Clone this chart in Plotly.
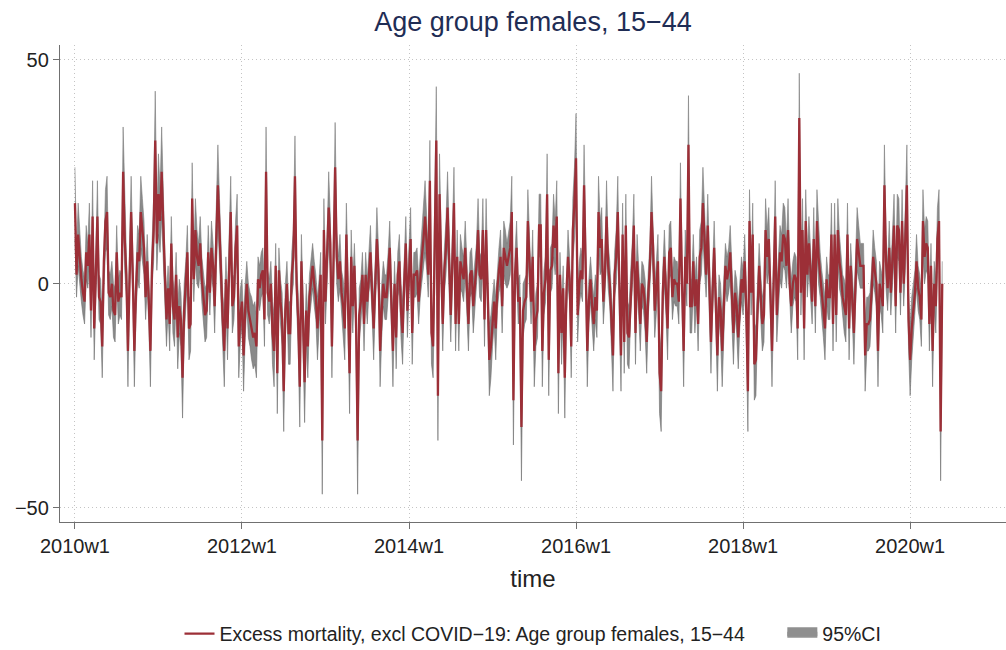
import plotly.graph_objects as go

# ---- data: weekly excess mortality (Stata %tw weeks, 52 per year) ----
y2010 = [18, 2, 11, 5, 1, -2, -4, 7, 4, 11, -6, 15, -10, 2, 15, -3, -4, -14, 5, 14, 16, -2, -3, 0, -6, -7,
         7, -4, -2, -3, 25, 10, 2, -15, 5, 16, 2, -15, -2, 7, 5, 16, 12, 8, -3, 5, -4, -15, 4, 12, 32, 9]
y2011 = [20, 14, 25, 12, 2, -8, -1, -9, 9, -5, -8, 2, -12, -5, -8, -21, -6, 0, 7, -10, -9, 19, 1, 12, 6, 4,
         9, 1, -3, -7, -6, 7, -2, 8, 4, -5, 10, 22, 12, 1, -8, -15, 1, -10, 4, 16, -5, -3, 8, 13, -14, -7]
y2012 = [-4, -16, -6, 0, -6, -8, -10, -12, -11, -14, 1, -1, 2, 3, -8, 25, -2, -4, 0, -11, -15, 4, -20, 3, -4, -8,
         -24, -6, 0, -11, -11, 2, 6, 24, 0, -8, -23, 5, -8, -22, -6, -14, -3, 0, 4, 0, -3, -10, -4, 2, -35, 12]
y2013 = [-4, 5, 17, 9, -14, 5, 26, 6, 1, 5, -2, -5, -10, 11, -3, -20, 6, -5, 4, -8, -35, -7, -4, 2, -9, 2,
         -4, 3, 7, -2, -10, 0, 10, 3, -15, -6, 0, -3, -3, 2, 8, -4, -15, 0, -12, 2, 5, -6, -11, 0, 9, -6]
y2014 = [3, 10, -11, 2, 2, 3, -4, 2, 6, 10, 15, 9, 2, 23, -11, -14, 8, 32, -25, 20, 5, -9, 3, 8, 17, 4,
         -7, 5, 18, -9, 6, -9, 5, 3, 1, 8, 0, -9, 2, 3, -5, 0, 4, 12, 2, 1, 12, -8, 12, -2, -17, -14]
y2015 = [-8, -4, -10, -1, 3, 6, -5, 8, 6, 4, 6, 8, 16, -26, 2, 8, -4, -3, -32, -6, -4, -3, 14, 5, -4, 6,
         -15, -8, -6, 13, 13, -15, -2, 1, 20, -17, 3, 4, 13, 8, 15, -20, 2, -11, -1, -21, -2, 6, 1, -14, 12, 18]
y2016 = [28, -7, 0, 3, 1, 22, 5, -15, -4, 1, -5, -9, -3, -6, 16, 8, 10, -4, 2, 15, 4, 0, -8, -16, 2, 6,
         16, -4, -16, 11, -13, 13, -11, -12, -2, 4, 13, -11, 5, -2, -9, 0, -1, -5, -13, -2, 4, 16, 8, -6, 0, 5]
y2017 = [-20, -24, -2, 6, -2, -10, 7, 8, -3, 1, 0, 0, -4, 19, 0, -15, 6, 0, 31, -5, -5, 5, -5, 1, -9, 6,
         8, 18, 10, 2, 13, 0, -13, -2, 8, -4, -16, -3, -6, -15, -4, 4, 1, 3, 7, -2, -11, -2, -5, -12, -4, 1]
y2018 = [-2, 5, -6, -24, 14, -2, 11, -18, -17, -4, 4, -3, -9, -7, 12, 6, 10, -2, -15, 0, 15, -7, 0, 7, 5, 11,
         10, 4, 12, 0, -5, 0, 2, 1, -10, 37, -2, 12, -10, 14, 2, 9, 3, -4, 10, -5, 14, 6, 2, -2, -6, -10]
y2019 = [1, -3, -3, 11, -9, 11, -7, 12, 5, 2, -3, -5, -7, 11, -10, 4, -3, -11, 0, 10, 7, 4, 4, 4, -16, -9,
         -9, -8, -2, 6, 3, 0, -15, 0, -2, -5, 22, 5, -1, 8, -2, 5, 13, -5, 13, 12, -2, 14, 0, 10, 22, -8]
y2020 = [-17, -10, -6, -2, 5, -1, -3, -8, 14, 6, 9, 8, -9, 4, -15, 0, -5, 10, 14, -33, 0]

# half-width of the 95% confidence band, read from the grey area
h2010 = [8, 5, 7, 6, 5, 5, 5, 6, 5, 7, 6, 8, 7, 5, 8, 5, 5, 7, 6, 7, 8, 5, 5, 5, 6, 6,
         6, 5, 5, 5, 10, 7, 5, 8, 6, 8, 5, 8, 5, 6, 6, 8, 7, 6, 5, 6, 5, 8, 5, 7, 11, 6]
h2011 = [9, 7, 10, 7, 5, 6, 5, 6, 6, 6, 6, 5, 7, 6, 6, 9, 6, 5, 6, 7, 6, 8, 5, 7, 6, 5,
         6, 5, 5, 6, 6, 6, 5, 6, 5, 6, 7, 9, 7, 5, 6, 8, 5, 7, 5, 8, 6, 5, 6, 7, 7, 6]
h2012 = [5, 8, 6, 5, 6, 6, 7, 7, 7, 7, 5, 5, 5, 5, 6, 10, 5, 5, 5, 7, 8, 5, 9, 5, 5, 6,
         9, 6, 5, 7, 7, 5, 6, 9, 5, 6, 9, 6, 6, 9, 6, 7, 5, 5, 5, 5, 5, 7, 5, 5, 12, 7]
h2013 = [5, 6, 8, 6, 7, 6, 10, 6, 5, 6, 5, 6, 7, 7, 5, 9, 6, 6, 5, 6, 12, 6, 5, 5, 6, 5,
         5, 5, 6, 5, 7, 5, 7, 5, 8, 6, 5, 5, 5, 5, 6, 5, 8, 5, 7, 5, 6, 6, 7, 5, 6, 6]
h2014 = [5, 7, 7, 5, 5, 5, 5, 5, 6, 7, 8, 6, 5, 9, 7, 7, 6, 12, 10, 9, 6, 6, 5, 6, 8, 5,
         6, 6, 8, 6, 6, 6, 6, 5, 5, 6, 5, 6, 5, 5, 6, 5, 5, 7, 5, 5, 7, 6, 7, 5, 8, 7]
h2015 = [6, 5, 7, 5, 5, 6, 6, 6, 6, 5, 6, 6, 8, 10, 5, 6, 5, 5, 12, 6, 5, 5, 7, 6, 5, 6,
         8, 6, 6, 7, 7, 8, 5, 5, 9, 8, 5, 5, 7, 6, 8, 9, 5, 7, 5, 9, 5, 6, 5, 7, 7, 8]
h2016 = [10, 6, 5, 5, 5, 9, 6, 8, 5, 5, 6, 6, 5, 6, 8, 6, 7, 5, 5, 8, 5, 5, 6, 8, 5, 6,
         8, 5, 8, 7, 7, 7, 7, 7, 5, 5, 7, 7, 6, 5, 6, 5, 5, 6, 7, 5, 5, 8, 6, 6, 5, 6]
h2017 = [9, 9, 5, 6, 5, 7, 6, 6, 5, 5, 5, 5, 5, 8, 5, 8, 6, 5, 11, 6, 6, 6, 6, 5, 6, 6,
         6, 8, 7, 5, 7, 5, 7, 5, 6, 5, 8, 5, 6, 8, 5, 5, 5, 5, 6, 5, 7, 5, 6, 7, 5, 5]
h2018 = [5, 6, 6, 9, 7, 5, 7, 8, 8, 5, 5, 5, 6, 6, 7, 6, 7, 5, 8, 5, 8, 6, 5, 6, 6, 7,
         7, 5, 7, 5, 6, 5, 5, 5, 7, 10, 5, 7, 7, 7, 5, 6, 5, 5, 7, 6, 7, 6, 5, 5, 6, 7]
h2019 = [5, 5, 5, 7, 6, 7, 6, 7, 6, 5, 5, 6, 6, 7, 7, 5, 5, 7, 5, 7, 6, 5, 5, 5, 8, 6,
         6, 6, 5, 6, 5, 5, 8, 5, 5, 6, 9, 6, 5, 6, 5, 6, 7, 6, 7, 7, 5, 7, 5, 7, 9, 6]
h2020 = [8, 7, 6, 5, 6, 5, 5, 6, 7, 6, 6, 6, 6, 5, 8, 5, 6, 7, 7, 11, 5]

tick_weeks = [0, 104, 208, 312, 416, 520]
tick_labels = ["2010w1", "2012w1", "2014w1", "2016w1", "2018w1", "2020w1"]
y_ticks = [-50, 0, 50]
y_labels = ["\u221250", "0", "50"]

excess = y2010 + y2011 + y2012 + y2013 + y2014 + y2015 + y2016 + y2017 + y2018 + y2019 + y2020
ci_half = h2010 + h2011 + h2012 + h2013 + h2014 + h2015 + h2016 + h2017 + h2018 + h2019 + h2020
weeks = list(range(len(excess)))
ci_high = [v + h for v, h in zip(excess, ci_half)]
ci_low = [v - h for v, h in zip(excess, ci_half)]

FONT = "Liberation Sans, Arial, Helvetica, sans-serif"
RED = "#9c2f37"
GREY = "#8a8a8a"
PAD = "\u00a0" * 6

fig = go.Figure()
fig.add_trace(go.Scatter(x=weeks, y=ci_high, mode="lines", line=dict(color="#7c7c7c", width=0.6),
                         showlegend=False, hoverinfo="skip", legendgroup="ci"))
fig.add_trace(go.Scatter(x=weeks, y=ci_low, mode="lines", line=dict(color="#6f6f6f", width=0.6),
                         fill="tonexty", fillcolor=GREY, name="95%CI", showlegend=False,
                         legendgroup="ci"))
# legend-only entry for the band (larger box like the original key)
fig.add_trace(go.Scatter(x=[None], y=[None], mode="lines", line=dict(color="#8f8f8f", width=9),
                         fill="toself", fillcolor="#939393", name="95%CI", legendrank=2,
                         legendgroup="ci", hoverinfo="skip"))
fig.add_trace(go.Scatter(x=weeks, y=excess, mode="lines", line=dict(color=RED, width=2.3),
                         name="Excess mortality, excl COVID\u221219: Age group females, 15\u221244" + PAD,
                         legendrank=1))

axis_common = dict(showline=True, linecolor="#707070", linewidth=1.3, ticks="outside", ticklen=6,
                   tickcolor="#707070", tickwidth=1.2, showgrid=True, gridcolor="#c4c4c4",
                   griddash="1px,3px", gridwidth=1, zeroline=False, automargin=False,
                   tickfont=dict(family=FONT, size=20, color="#222222"))

fig.update_layout(
    width=1006, height=650,
    margin=dict(l=60, r=0, t=45, b=128),
    paper_bgcolor="white", plot_bgcolor="white",
    font=dict(family=FONT, color="#222222"),
    title=dict(text="Age group females, 15\u221244", x=0.5, xref="paper", xanchor="center",
               y=1 - 22 / 650, yref="container", yanchor="middle",
               font=dict(family=FONT, size=27, color="#1f2d55")),
    xaxis=dict(range=[-9.3, 579.7], tickvals=tick_weeks, ticktext=tick_labels,
               title=dict(text="time", font=dict(family=FONT, size=24, color="#222222"), standoff=14),
               **axis_common),
    yaxis=dict(range=[-53.2, 53.3], tickvals=y_ticks, ticktext=y_labels, **axis_common),
    legend=dict(orientation="h", x=0.5, xanchor="center", xref="paper",
                y=1 - 634 / 650, yref="container", yanchor="middle",
                font=dict(family=FONT, size=19.5, color="#222222"), itemwidth=30,
                traceorder="normal"),
    showlegend=True,
)

fig.write_html("out.html", config={"displayModeBar": False},
               post_script="document.body.style.margin='0px';document.body.style.padding='0px';")
